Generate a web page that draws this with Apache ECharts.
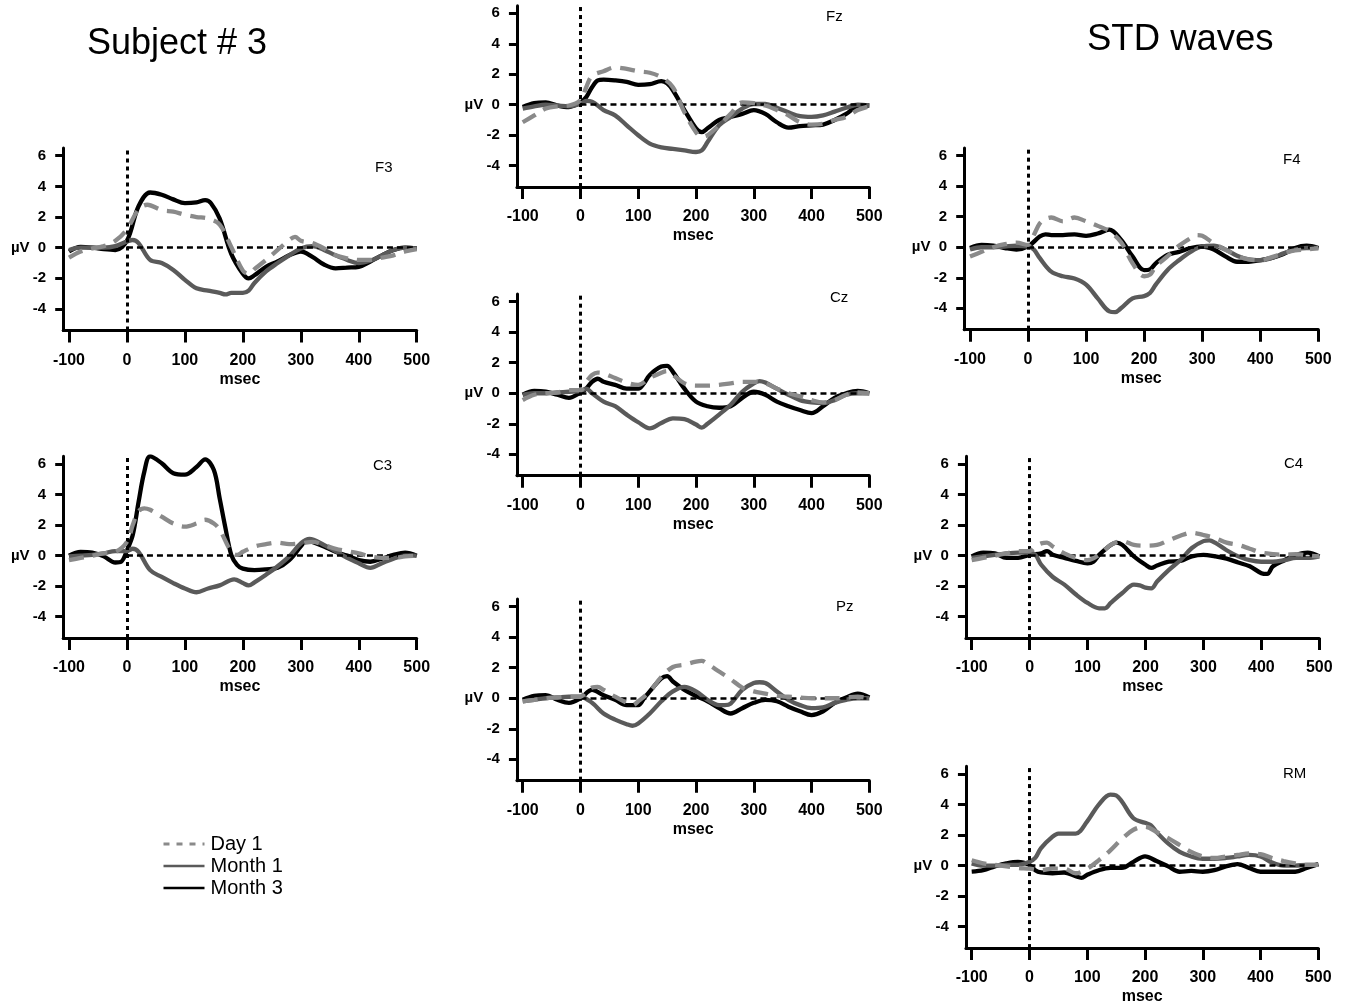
<!DOCTYPE html>
<html><head><meta charset="utf-8">
<script src="https://cdn.jsdelivr.net/npm/echarts@6/dist/echarts.min.js"></script>
<style>html,body{margin:0;padding:0;background:#fff}#c{width:1353px;height:1008px}</style>
</head><body><div id="c"></div>
<script>
// ---------------- data ----------------
const TIME_TICKS = [-100, 0, 100, 200, 300, 400, 500];
const UV_TICKS = [-4, -2, 0, 2, 4, 6];
const CONDITIONS = ['Day 1', 'Month 1', 'Month 3'];
const PANELS = ['F3', 'C3', 'Fz', 'Cz', 'Pz', 'F4', 'C4', 'RM'];

// values as [msec, µV]
const F3_DAY1 = [[-100,-0.65],[-80,-0.25],[-60,-0.05],[-40,0.1],[-20,0.45],[0,1.2],[20,2.5],[35,2.8],[60,2.45],[80,2.35],[100,2.15],[120,2.0],[140,1.9],[160,1.5],[180,0.05],[200,-1.5],[210,-1.7],[220,-1.4],[240,-0.8],[260,-0.15],[280,0.5],[290,0.7],[300,0.45],[320,0.3],[340,-0.05],[360,-0.5],[380,-0.7],[400,-0.8],[420,-0.8],[440,-0.65],[460,-0.5],[480,-0.25],[500,-0.1]];
const F3_MONTH1 = [[-100,-0.15],[-80,0],[-60,0],[-40,0],[-20,0.1],[0,0.4],[10,0.5],[20,0.3],[40,-0.8],[60,-1.0],[80,-1.45],[100,-2.1],[120,-2.65],[140,-2.8],[160,-2.95],[170,-3.05],[180,-2.95],[200,-2.95],[210,-2.8],[220,-2.3],[240,-1.55],[260,-1.0],[280,-0.5],[300,-0.05],[320,0.1],[340,-0.15],[360,-0.5],[380,-0.8],[400,-1.0],[420,-0.85],[440,-0.5],[460,-0.15],[480,0],[500,-0.05]];
const F3_MONTH3 = [[-100,-0.25],[-80,0.05],[-60,0],[-40,-0.1],[-20,-0.15],[0,0.45],[20,2.7],[40,3.6],[60,3.45],[80,3.15],[100,2.9],[120,2.95],[135,3.1],[145,2.9],[160,1.9],[180,-0.4],[200,-1.7],[210,-2.0],[220,-1.8],[240,-1.25],[260,-0.9],[280,-0.5],[300,-0.25],[320,-0.6],[340,-1.1],[360,-1.35],[380,-1.3],[400,-1.25],[420,-0.9],[440,-0.5],[460,-0.15],[480,0],[500,-0.05]];

const C3_DAY1 = [[-100,-0.3],[-80,-0.15],[-60,0],[-40,0.15],[-20,0.25],[0,0.9],[10,2.0],[20,2.9],[30,3.1],[40,3.0],[60,2.55],[80,2.1],[100,1.9],[120,2.1],[135,2.35],[150,2.1],[160,1.7],[180,0.25],[190,0.05],[200,0.25],[220,0.6],[240,0.75],[260,0.85],[280,0.75],[300,0.8],[320,0.9],[340,0.7],[360,0.45],[380,0.3],[400,0.15],[420,-0.05],[440,-0.15],[460,-0.15],[480,-0.05],[500,0]];
const C3_MONTH1 = [[-100,-0.05],[-80,0],[-60,0.05],[-40,0.15],[-20,0.3],[0,0.3],[10,0.45],[20,0.25],[40,-0.95],[60,-1.4],[80,-1.8],[100,-2.15],[120,-2.4],[140,-2.15],[160,-1.95],[185,-1.55],[200,-1.8],[210,-1.95],[220,-1.75],[240,-1.25],[260,-0.7],[280,-0.05],[300,0.8],[315,1.1],[340,0.7],[360,0.3],[380,-0.15],[400,-0.5],[420,-0.8],[440,-0.5],[460,-0.2],[480,0],[500,0]];
const C3_MONTH3 = [[-100,0],[-80,0.25],[-60,0.2],[-40,-0.05],[-20,-0.45],[-10,-0.4],[0,0.35],[10,1.35],[20,3.5],[30,5.5],[40,6.5],[60,6.05],[80,5.4],[100,5.3],[120,5.8],[135,6.3],[150,5.6],[160,3.75],[170,1.8],[180,0.05],[190,-0.6],[200,-0.85],[220,-0.95],[240,-0.9],[260,-0.8],[280,-0.3],[300,0.6],[310,1.0],[320,0.9],[340,0.6],[360,0.25],[380,0],[400,-0.3],[420,-0.4],[440,-0.2],[460,0.05],[480,0.2],[500,0]];

const FZ_DAY1 = [[-100,-1.15],[-80,-0.7],[-60,-0.25],[-40,-0.1],[-20,-0.05],[0,0.3],[10,1.15],[20,1.9],[40,2.2],[60,2.45],[80,2.35],[100,2.2],[120,2.1],[140,1.8],[160,1.15],[180,-0.5],[200,-1.8],[210,-2.1],[220,-2.0],[240,-1.35],[260,-0.6],[280,0.15],[300,0.1],[320,-0.05],[340,-0.35],[360,-0.7],[380,-1.15],[400,-1.3],[420,-1.25],[440,-1.0],[460,-0.8],[480,-0.35],[500,-0.1]];
const FZ_MONTH1 = [[-100,-0.25],[-80,-0.1],[-60,0],[-40,-0.05],[-20,-0.1],[0,0.05],[10,0.25],[20,0.2],[40,-0.35],[60,-0.7],[80,-1.35],[100,-2.0],[120,-2.55],[140,-2.8],[160,-2.9],[180,-3.0],[200,-3.1],[210,-3.0],[220,-2.45],[240,-1.35],[260,-0.8],[280,-0.25],[300,0.05],[320,0.05],[340,-0.2],[360,-0.5],[380,-0.75],[400,-0.8],[420,-0.7],[440,-0.45],[460,-0.2],[480,0],[500,-0.05]];
const FZ_MONTH3 = [[-100,-0.15],[-80,0.1],[-60,0.15],[-40,-0.05],[-20,-0.15],[0,0.15],[10,0.5],[20,1.15],[30,1.6],[40,1.65],[60,1.6],[80,1.5],[100,1.3],[120,1.35],[140,1.55],[150,1.4],[160,0.95],[180,-0.35],[200,-1.55],[210,-1.8],[220,-1.55],[240,-1.0],[260,-0.8],[280,-0.6],[300,-0.35],[320,-0.6],[340,-1.15],[360,-1.5],[380,-1.4],[400,-1.35],[420,-1.3],[440,-1.0],[460,-0.6],[480,-0.1],[500,-0.05]];

const CZ_DAY1 = [[-100,-0.45],[-80,-0.1],[-60,0],[-40,0.05],[-20,0.2],[0,0.2],[10,0.75],[20,1.2],[30,1.35],[40,1.3],[60,1.0],[80,0.7],[100,0.55],[120,1.0],[140,1.35],[150,1.45],[160,1.2],[180,0.65],[200,0.5],[220,0.5],[240,0.55],[260,0.65],[280,0.75],[300,0.75],[320,0.65],[340,0.3],[360,0],[380,-0.2],[400,-0.45],[420,-0.6],[440,-0.45],[460,-0.1],[480,0.05],[500,0]];
const CZ_MONTH1 = [[-100,-0.1],[-80,0],[-60,0],[-40,0.05],[-20,0.1],[0,0.15],[10,0.3],[20,0],[40,-0.55],[60,-0.85],[80,-1.4],[100,-1.9],[120,-2.3],[140,-1.95],[160,-1.65],[180,-1.7],[200,-2.05],[210,-2.25],[220,-2.0],[240,-1.4],[260,-0.75],[280,0.1],[300,0.65],[310,0.8],[320,0.7],[340,0.3],[360,-0.1],[380,-0.45],[400,-0.6],[420,-0.65],[440,-0.45],[460,-0.1],[480,0],[500,0]];
const CZ_MONTH3 = [[-100,-0.1],[-80,0.15],[-60,0.1],[-40,-0.1],[-20,-0.3],[0,0.05],[10,0.3],[20,0.75],[30,0.95],[40,0.75],[60,0.55],[80,0.3],[100,0.3],[110,0.65],[120,1.2],[140,1.75],[150,1.8],[160,1.4],[180,0.3],[200,-0.55],[220,-0.85],[240,-0.95],[260,-0.85],[280,-0.3],[300,0.1],[320,-0.1],[340,-0.55],[360,-0.85],[380,-1.1],[400,-1.3],[420,-0.85],[440,-0.3],[460,0],[480,0.15],[500,0]];

const PZ_DAY1 = [[-100,-0.2],[-80,-0.1],[-60,0],[-40,0.05],[-20,0.1],[0,0.1],[10,0.45],[20,0.7],[30,0.75],[40,0.55],[60,0.1],[80,-0.3],[90,-0.45],[100,-0.2],[120,0.45],[140,1.4],[160,2.05],[180,2.2],[200,2.4],[210,2.45],[220,2.25],[240,1.75],[260,1.25],[280,0.7],[300,0.45],[320,0.3],[340,0.15],[360,0.1],[380,0.05],[400,0],[420,0],[440,0],[460,0.05],[480,0.1],[500,0]];
const PZ_MONTH1 = [[-100,-0.2],[-80,-0.1],[-60,0],[-40,0.05],[-20,0.1],[0,0.1],[20,-0.3],[40,-1.0],[60,-1.4],[80,-1.7],[90,-1.8],[100,-1.65],[120,-1.0],[140,-0.2],[160,0.45],[180,0.75],[200,0.45],[220,-0.1],[240,-0.45],[250,-0.45],[260,-0.35],[280,0.55],[300,1.0],[310,1.05],[320,1.0],[340,0.45],[360,-0.1],[380,-0.45],[400,-0.65],[420,-0.6],[440,-0.3],[460,-0.1],[480,0],[500,0]];
const PZ_MONTH3 = [[-100,-0.1],[-80,0.15],[-60,0.2],[-40,-0.1],[-20,-0.3],[0,0],[20,0.55],[40,0.2],[60,-0.1],[80,-0.45],[100,-0.45],[110,0],[120,0.45],[140,1.3],[150,1.45],[160,1.1],[180,0.55],[200,0.15],[220,-0.2],[240,-0.65],[260,-1.0],[280,-0.65],[300,-0.3],[320,-0.1],[340,-0.2],[360,-0.55],[380,-0.85],[400,-1.1],[420,-0.85],[440,-0.3],[460,0.05],[480,0.3],[500,0.05]];

const F4_DAY1 = [[-100,-0.6],[-80,-0.3],[-60,0],[-40,0.2],[-20,0.3],[0,0.15],[10,0.8],[20,1.55],[30,1.85],[40,1.95],[60,1.7],[80,1.95],[100,1.7],[120,1.4],[140,1.05],[160,0.35],[180,-1.05],[200,-1.9],[210,-1.8],[220,-1.25],[240,-0.6],[260,0.1],[280,0.6],[290,0.8],[300,0.75],[320,0.25],[340,-0.15],[360,-0.55],[380,-0.8],[400,-0.85],[420,-0.65],[440,-0.4],[460,-0.2],[480,-0.15],[500,-0.05]];
const F4_MONTH1 = [[-100,-0.15],[-80,0],[-60,0],[-40,0.05],[-20,0.1],[0,0.05],[10,-0.15],[20,-0.7],[40,-1.6],[60,-1.9],[80,-2.05],[100,-2.45],[120,-3.35],[140,-4.2],[150,-4.25],[160,-4.0],[180,-3.35],[200,-3.2],[210,-3.0],[220,-2.45],[240,-1.5],[260,-0.85],[280,-0.3],[300,0.05],[320,0.1],[340,-0.15],[360,-0.55],[380,-0.8],[400,-0.85],[420,-0.7],[440,-0.4],[460,-0.15],[480,-0.05],[500,-0.05]];
const F4_MONTH3 = [[-100,-0.05],[-80,0.15],[-60,0.1],[-40,-0.05],[-20,-0.15],[0,0.05],[20,0.7],[30,0.85],[40,0.8],[60,0.8],[80,0.85],[100,0.75],[120,0.9],[140,1.15],[160,0.5],[180,-0.6],[200,-1.5],[210,-1.45],[220,-1.05],[240,-0.5],[260,-0.3],[280,-0.05],[300,0.05],[320,-0.15],[340,-0.6],[360,-0.95],[380,-0.95],[400,-0.85],[420,-0.7],[440,-0.45],[460,-0.05],[480,0.1],[500,-0.05]];

const C4_DAY1 = [[-100,-0.3],[-80,-0.15],[-60,0],[-40,0.15],[-20,0.3],[0,0.3],[10,0.6],[20,0.8],[30,0.85],[40,0.6],[60,0.15],[80,-0.15],[100,-0.3],[120,0.05],[140,0.7],[160,0.95],[180,0.7],[200,0.65],[220,0.7],[240,1.0],[260,1.3],[280,1.5],[300,1.35],[320,1.15],[340,0.85],[360,0.7],[380,0.45],[400,0.2],[420,0.1],[440,0.05],[460,0.1],[480,0],[500,-0.05]];
const C4_MONTH1 = [[-100,-0.15],[-80,-0.05],[-60,0.05],[-40,0.15],[-20,0.2],[0,0.2],[10,0.05],[20,-0.6],[40,-1.4],[60,-1.9],[80,-2.55],[100,-3.1],[120,-3.45],[130,-3.45],[140,-3.1],[160,-2.45],[180,-1.9],[190,-1.95],[200,-2.1],[210,-2.15],[220,-1.7],[240,-0.95],[260,-0.3],[280,0.5],[300,0.95],[310,1.0],[320,0.85],[340,0.35],[360,-0.05],[380,-0.3],[400,-0.4],[420,-0.4],[440,-0.3],[460,-0.15],[480,-0.15],[500,-0.05]];
const C4_MONTH3 = [[-100,-0.05],[-80,0.2],[-60,0.15],[-40,-0.15],[-20,-0.15],[0,0.05],[20,0.15],[30,0.3],[40,0.05],[60,-0.15],[80,-0.35],[100,-0.5],[110,-0.4],[120,0.05],[140,0.7],[150,0.85],[160,0.7],[180,-0.05],[200,-0.6],[210,-0.8],[220,-0.65],[240,-0.4],[260,-0.35],[280,-0.05],[300,0.05],[320,-0.05],[340,-0.2],[360,-0.45],[380,-0.7],[400,-1.15],[410,-1.2],[420,-0.7],[440,-0.3],[460,0.05],[480,0.2],[500,-0.05]];

const RM_DAY1 = [[-100,0.35],[-80,0.15],[-60,0.05],[-40,-0.05],[-20,-0.15],[0,-0.2],[20,-0.3],[40,-0.2],[60,-0.2],[80,-0.5],[100,-0.2],[120,0.35],[140,1.0],[160,1.75],[180,2.35],[200,2.55],[220,2.2],[240,1.8],[260,1.35],[280,0.9],[300,0.6],[320,0.5],[340,0.6],[360,0.7],[380,0.8],[400,0.75],[420,0.5],[440,0.3],[460,0.15],[480,0.05],[500,0.05]];
const RM_MONTH1 = [[-100,0.15],[-80,0],[-60,0],[-40,0.05],[-20,0.05],[0,0.25],[10,0.5],[20,1.15],[40,1.9],[50,2.1],[60,2.1],[80,2.1],[100,2.9],[120,4.0],[140,4.65],[150,4.6],[160,4.2],[180,3.1],[200,2.8],[210,2.65],[220,2.2],[240,1.45],[260,0.9],[280,0.6],[300,0.45],[320,0.45],[340,0.5],[360,0.6],[380,0.7],[400,0.6],[420,0.2],[440,0],[460,0],[480,0.05],[500,0.05]];
const RM_MONTH3 = [[-100,-0.4],[-80,-0.3],[-60,-0.05],[-40,0.15],[-20,0.25],[0,0.05],[10,-0.3],[20,-0.45],[40,-0.5],[60,-0.45],[80,-0.7],[90,-0.8],[100,-0.6],[120,-0.3],[140,-0.15],[160,-0.15],[180,0.25],[200,0.6],[220,0.3],[240,-0.05],[260,-0.4],[280,-0.35],[300,-0.4],[320,-0.3],[340,-0.05],[360,0.1],[380,-0.15],[400,-0.4],[420,-0.4],[440,-0.4],[460,-0.4],[480,-0.15],[500,0.1]];

const PANEL_DATA = {
  F3: [F3_DAY1, F3_MONTH1, F3_MONTH3],
  C3: [C3_DAY1, C3_MONTH1, C3_MONTH3],
  Fz: [FZ_DAY1, FZ_MONTH1, FZ_MONTH3],
  Cz: [CZ_DAY1, CZ_MONTH1, CZ_MONTH3],
  Pz: [PZ_DAY1, PZ_MONTH1, PZ_MONTH3],
  F4: [F4_DAY1, F4_MONTH1, F4_MONTH3],
  C4: [C4_DAY1, C4_MONTH1, C4_MONTH3],
  RM: [RM_DAY1, RM_MONTH1, RM_MONTH3]
};

// ---------------- layout (pixel positions of -100/500 ms and +6/-4 µV) ----------------
const LAYOUT = {
  F3: {x0: 69,    x1: 416.7,  y6: 155.7, ym4: 309,   tl: 375,  tt: 160},
  C3: {x0: 69,    x1: 416.7,  y6: 464,   ym4: 616.7, tl: 373,  tt: 458},
  Fz: {x0: 522.7, x1: 869.3,  y6: 13.3,  ym4: 165.7, tl: 826,  tt: 9},
  Cz: {x0: 522.7, x1: 869.3,  y6: 301.7, ym4: 454.3, tl: 830,  tt: 290},
  Pz: {x0: 522.7, x1: 869.3,  y6: 606.7, ym4: 759.3, tl: 836,  tt: 599},
  F4: {x0: 970,   x1: 1318.3, y6: 155.7, ym4: 308.3, tl: 1283, tt: 152},
  C4: {x0: 971.7, x1: 1319.3, y6: 464,   ym4: 616.7, tl: 1284, tt: 456},
  RM: {x0: 971.7, x1: 1318.3, y6: 774,   ym4: 926.7, tl: 1283, tt: 766}
};
const X_MIN = -110, X_MAX = 500, Y_MIN = -5.4, Y_MAX = 6.5;
const FONT = 'Liberation Sans, Arial, Helvetica, sans-serif';
const STYLES = [
  {color: '#8a8a8a', type: [15, 9], legendType: [6, 7], legendWidth: 3},
  {color: '#5a5a5a', type: 'solid', legendType: 'solid', legendWidth: 2.5},
  {color: '#000000', type: 'solid', legendType: 'solid', legendWidth: 2.5}
];

const grids = [], xAxes = [], yAxes = [], series = [], titles = [];
titles.push({text: 'Subject # 3', left: 87, top: 26, padding: 0,
  textStyle: {fontFamily: FONT, fontSize: 36, fontWeight: 'normal', color: '#000'}});
titles.push({text: 'STD waves', left: 1087, top: 21, padding: 0,
  textStyle: {fontFamily: FONT, fontSize: 36.5, fontWeight: 'normal', color: '#000'}});

PANELS.forEach((p, i) => {
  const L = LAYOUT[p];
  const pxMs = (L.x1 - L.x0) / 600;
  const pxUv = (L.ym4 - L.y6) / 10;
  const yZero = L.y6 + 6 * pxUv;
  grids.push({
    left: L.x0 + (X_MIN + 100) * pxMs,
    width: (X_MAX - X_MIN) * pxMs,
    top: yZero - Y_MAX * pxUv,
    height: (Y_MAX - Y_MIN) * pxUv,
    containLabel: false
  });
  xAxes.push({
    type: 'value', gridIndex: i, min: X_MIN, max: X_MAX,
    axisLine: {show: true, onZero: false, lineStyle: {color: '#000', width: 3}},
    axisTick: {show: true, customValues: TIME_TICKS, length: 12, lineStyle: {color: '#000', width: 3}},
    axisLabel: {customValues: TIME_TICKS, color: '#000', fontFamily: FONT, fontWeight: 'bold', fontSize: 16, margin: 22},
    splitLine: {show: false},
    name: 'msec', nameLocation: 'middle', nameGap: 41,
    nameTextStyle: {color: '#000', fontFamily: FONT, fontWeight: 'bold', fontSize: 16}
  });
  yAxes.push({
    type: 'value', gridIndex: i, min: Y_MIN, max: Y_MAX,
    axisLine: {show: true, onZero: false, lineStyle: {color: '#000', width: 3}},
    axisTick: {show: true, customValues: UV_TICKS, length: 8, lineStyle: {color: '#000', width: 3}},
    axisLabel: {customValues: UV_TICKS, color: '#000', fontFamily: FONT, fontWeight: 'bold', fontSize: 15, margin: 17,
      formatter: v => (v === 0 ? 'µV  0' : String(v))},
    splitLine: {show: false}
  });
  titles.push({text: p, left: L.tl, top: L.tt, padding: 0,
    textStyle: {fontFamily: FONT, fontSize: 15, fontWeight: 'normal', color: '#000'}});

  // draw Month 3 first, then Month 1, then Day 1 on top
  [2, 1, 0].forEach(k => {
    const s = {
      name: CONDITIONS[k], type: 'line', xAxisIndex: i, yAxisIndex: i,
      data: PANEL_DATA[p][k], smooth: 0.35, symbol: 'none', showSymbol: false,
      silent: true, animation: false,
      lineStyle: {color: STYLES[k].color, width: 4.3, type: STYLES[k].type, cap: 'butt'},
      itemStyle: {color: STYLES[k].color},
      z: 3 + (2 - k)
    };
    if (k === 2) {
      s.markLine = {
        silent: true, symbol: ['none', 'none'], label: {show: false}, animation: false,
        data: [
          {xAxis: 0, lineStyle: {color: '#000', width: 3, type: [4, 4]}},
          [{coord: [0, 0], lineStyle: {color: '#000', width: 2.5, type: [6, 4]}}, {coord: [500, 0]}]
        ]
      };
    }
    series.push(s);
  });
});

const chart = echarts.init(document.getElementById('c'), null, {renderer: 'canvas'});
chart.setOption({
  backgroundColor: '#fff',
  animation: false,
  title: titles,
  legend: {
    data: CONDITIONS.map((name, k) => ({
      name: name,
      lineStyle: {color: STYLES[k].color, width: STYLES[k].legendWidth, type: STYLES[k].legendType},
      itemStyle: {opacity: 0, borderWidth: 0}
    })),
    orient: 'vertical', left: 157, top: 829,
    itemWidth: 41, itemHeight: 14, itemGap: 2,
    itemStyle: {opacity: 0, borderWidth: 0},
    textStyle: {fontFamily: FONT, fontSize: 20, color: '#000', padding: [0, 0, 0, 1]},
    selectedMode: false
  },
  grid: grids, xAxis: xAxes, yAxis: yAxes, series: series
});
</script></body></html>
